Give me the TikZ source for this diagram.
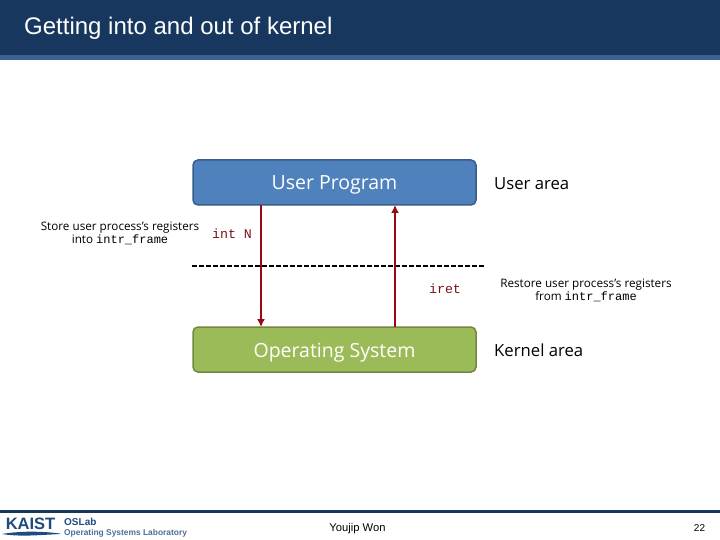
\documentclass[tikz,border=0pt]{standalone}
\usepackage{fontspec}
\setmainfont{Open Sans}
\setmonofont{Liberation Mono}
\newfontfamily\titlefont{Liberation Sans}
\usetikzlibrary{arrows.meta}
\definecolor{headdark}{RGB}{23,55,94}
\definecolor{headlight}{RGB}{60,98,146}
\definecolor{userfill}{RGB}{79,129,189}
\definecolor{userline}{RGB}{56,93,138}
\definecolor{osfill}{RGB}{155,187,89}
\definecolor{osline}{RGB}{113,137,63}
\definecolor{arrowred}{RGB}{155,10,20}
\definecolor{labelred}{RGB}{120,20,25}
\definecolor{logoblue}{RGB}{30,75,125}
\tikzset{
	areabox/.style={rounded corners=5pt, line width=1.5pt, minimum width=283pt, minimum height=45pt, inner sep=0pt, outer sep=0pt, text=white, text height=15pt, text depth=0pt, font=\fontsize{19.5}{22}\selectfont},
	arealabel/.style={anchor=west, inner sep=0pt, font=\fontsize{16.7}{20}\selectfont},
	note/.style={align=center, inner sep=0pt, font=\fontsize{11.7}{13}\selectfont},
	instr/.style={inner sep=0pt, text=labelred, font=\fontsize{13.3}{14}\ttfamily},
	ctrl/.style={line width=1.5pt, draw=arrowred, -{Latex[length=8pt,width=8pt]}}
}
\newcommand*{\framename}{{\fontsize{12}{13}\ttfamily intr\_frame}}
\begin{document}
\begin{tikzpicture}[x=1pt, y=-1pt]
		\useasboundingbox (0,0) rectangle (720,540);
		\fill[headdark] (0,0) rectangle (720,55);
		\fill[headlight] (0,55) rectangle (720,60);
		\node[anchor=west, inner sep=0pt, text=white, font=\titlefont\fontsize{24}{28}\selectfont] (Title) at (24,28.5) {Getting into and out of kernel};

		\node[areabox, draw=userline, fill=userfill] (User) at (334.5,182.5) {User Program};
		\node[areabox, draw=osline, fill=osfill] (OS) at (334.5,349.5) {Operating System};
		\node[arealabel] (UserArea) at (494,183.5) {User area};
		\node[arealabel] (KernelArea) at (494,350) {Kernel area};

		\coordinate (D1) at (192,266);
		\coordinate (D2) at (484,266);
		\draw[line width=1.2pt, dash pattern=on 5pt off 2pt] (D1) -- (D2);

		\coordinate (X1) at (261,266);
		\coordinate (X2) at (395,266);
		\draw[ctrl] (User.south -| X1) -- (OS.north -| X1);
		\draw[ctrl] (OS.north -| X2) -- (User.south -| X2);

		\node[note] (Store) at (120,233) {Store user process's registers\\into \framename};
		\node[note] (Restore) at (586,290) {Restore user process's registers\\from \framename};
		\node[instr] (IntN) at (232,234) {int N};
		\node[instr] (Iret) at (445,289) {iret};

		% footer
		\fill[headdark] (0,510) rectangle (720,513);
		\node[inner sep=0pt, text=logoblue, font=\titlefont\bfseries\fontsize{16.5}{16}\selectfont] (Kaist) at (30.5,524) {KAIST};
		\fill[logoblue] (2,534) .. controls (20,531) and (40,531) .. (60,533.5) -- (60,534) .. controls (40,535) and (20,537) .. (2,534);
		\node[anchor=west, inner sep=0pt, text=logoblue, font=\titlefont\bfseries\fontsize{10}{10}\selectfont] (Lab) at (64,521.5) {OSLab};
		\node[anchor=west, inner sep=0pt, text=logoblue!80, font=\titlefont\bfseries\fontsize{8.4}{9}\selectfont] (LabName) at (64,533.5) {Operating Systems Laboratory};
		\node[inner sep=0pt, font=\titlefont\fontsize{11.2}{12}\selectfont] (Author) at (357.5,528.5) {Youjip Won};
		\node[inner sep=0pt, font=\titlefont\fontsize{10}{12}\selectfont] (Page) at (699.5,528.5) {22};
\end{tikzpicture}
\end{document}
